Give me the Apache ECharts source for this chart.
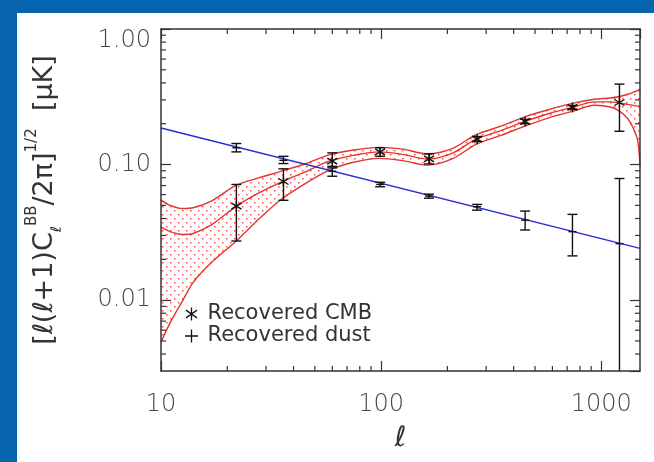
<!DOCTYPE html>
<html>
<head>
<meta charset="utf-8">
<script src="https://cdn.jsdelivr.net/npm/echarts@6/dist/echarts.min.js"></script>
<style>
html, body { margin: 0; padding: 0; background: #0564ad; }
#chart { position: absolute; left: 17px; top: 13px; width: 637px; height: 449px; background: #fff; }
</style>
</head>
<body>
<div id="chart"></div>
<script>
// CMB 功率谱带 (上/中/下三条曲线), 按多极 l 采样
const bandL     = [10, 11, 12.5, 14, 17, 22, 28, 35, 45, 58, 75, 98, 125, 163, 210, 270, 350, 450, 590, 740, 930, 1100, 1210, 1320, 1420, 1470, 1500];
const bandUpper = [0.0547, 0.050, 0.0474, 0.048, 0.054, 0.0705, 0.080, 0.089, 0.101, 0.118, 0.128, 0.134, 0.130, 0.120, 0.131, 0.166, 0.192, 0.225, 0.257, 0.283, 0.303, 0.310, 0.318, 0.330, 0.345, 0.353, 0.360];
const bandMid   = [0.0345, 0.032, 0.0305, 0.031, 0.036, 0.0494, 0.062, 0.074, 0.088, 0.106, 0.117, 0.124, 0.119, 0.110, 0.121, 0.154, 0.178, 0.208, 0.240, 0.264, 0.290, 0.290, 0.285, 0.278, 0.272, 0.270, 0.268];
const bandLower = [0.0049, 0.0068, 0.0098, 0.0135, 0.019, 0.0273, 0.040, 0.055, 0.072, 0.091, 0.104, 0.111, 0.107, 0.099, 0.110, 0.141, 0.164, 0.192, 0.224, 0.247, 0.274, 0.266, 0.248, 0.218, 0.175, 0.145, 0.097];

// 分箱数据点
const binL   = [22, 36, 60, 99, 165, 273, 451, 740, 1210];
const cmbVal = [0.0493, 0.0750, 0.106, 0.124, 0.110, 0.154, 0.208, 0.264, 0.287];
const cmbLo  = [0.0273, 0.0545, 0.097, 0.115, 0.101, 0.148, 0.200, 0.256, 0.176];
const cmbHi  = [0.0713, 0.093, 0.122, 0.133, 0.120, 0.161, 0.216, 0.273, 0.392];
const dustVal = [0.133, 0.1075, 0.0893, 0.0713, 0.0585, 0.0489, 0.0389, 0.032, 0.0261];
const dustLo  = [0.124, 0.1017, 0.082, 0.0686, 0.0565, 0.0461, 0.0329, 0.0212, 0.0008];
const dustHi  = [0.143, 0.115, 0.0945, 0.074, 0.0605, 0.0508, 0.0454, 0.0429, 0.0789];

// 尘埃拟合直线
const fitL   = [10, 1500];
const fitVal = [0.186, 0.0241];

// 坐标轴
const xMin = 10, xMax = 1500, yMin = 0.003, yMax = 1;
const xMinorTicks = [20, 30, 40, 50, 60, 70, 80, 90, 200, 300, 400, 500, 600, 700, 800, 900];
const yMinorTicks = [0.004, 0.005, 0.006, 0.007, 0.008, 0.009, 0.02, 0.03, 0.04, 0.05, 0.06, 0.07, 0.08, 0.09, 0.2, 0.3, 0.4, 0.5, 0.6, 0.7, 0.8, 0.9];

const red = '#e3342f';
const axisColor = '#333';
const font = 'DejaVu Sans';

// 点阵填充
const tile = document.createElement('canvas');
tile.width = 8; tile.height = 8;
const g = tile.getContext('2d');
g.fillStyle = 'rgba(228,52,52,0.85)';
g.fillRect(1, 1, 1.5, 1.5);
g.fillRect(5, 5, 1.5, 1.5);

const starPath = 'path://M9,0H11V20H9Z M1,5L2,3L19,15L18,17Z M18,3L19,5L2,17L1,15Z';
const plusPath = 'path://M0,9H20V11H0Z M9,0H11V20H9Z';

function errorBars(star) {
    return function (params, api) {
        const l = api.value(0);
        const lo = api.value(2);
        const c = api.coord([l, api.value(1)]);
        const pLo = api.coord([l, Math.max(lo, yMin)]);
        const pHi = api.coord([l, api.value(3)]);
        const st = { stroke: '#111', lineWidth: 1.4 };
        const cap = 5;
        const kids = [
            { type: 'line', shape: { x1: c[0], y1: pLo[1], x2: c[0], y2: pHi[1] }, style: st },
            { type: 'line', shape: { x1: c[0] - cap, y1: pHi[1], x2: c[0] + cap, y2: pHi[1] }, style: st }
        ];
        if (lo > yMin) {
            kids.push({ type: 'line', shape: { x1: c[0] - cap, y1: pLo[1], x2: c[0] + cap, y2: pLo[1] }, style: st });
        }
        if (star) {
            const s = 5;
            kids.push({ type: 'line', shape: { x1: c[0], y1: c[1] - s, x2: c[0], y2: c[1] + s }, style: st });
            kids.push({ type: 'line', shape: { x1: c[0] - s, y1: c[1] - s * 0.6, x2: c[0] + s, y2: c[1] + s * 0.6 }, style: st });
            kids.push({ type: 'line', shape: { x1: c[0] - s, y1: c[1] + s * 0.6, x2: c[0] + s, y2: c[1] - s * 0.6 }, style: st });
        } else {
            kids.push({ type: 'line', shape: { x1: c[0] - 4, y1: c[1], x2: c[0] + 4, y2: c[1] }, style: st });
        }
        return { type: 'group', children: kids };
    };
}

const tickStyle = { stroke: axisColor, lineWidth: 1.2 };
const axLine = { show: true, lineStyle: { color: axisColor, width: 1.5 } };
const axTick = { inside: true, length: 10, lineStyle: { color: axisColor, width: 1.2 } };

const chart = echarts.init(document.getElementById('chart'));
chart.setOption({
    animation: false,
    grid: { left: 140, right: 14, top: 16, bottom: 91 },
    legend: {
        orient: 'vertical', left: 163, top: 285, z: 20,
        itemWidth: 22, itemHeight: 13, itemGap: 0,
        selectedMode: false,
        textStyle: { fontSize: 21, color: '#333', fontFamily: font, lineHeight: 22 },
        data: [
            { name: 'Recovered CMB', icon: starPath, itemStyle: { color: '#111' } },
            { name: 'Recovered dust', icon: plusPath, itemStyle: { color: '#111' } }
        ]
    },
    xAxis: [
        {
            type: 'log', min: xMin, max: xMax, logBase: 10, z: 10,
            name: 'ℓ', nameLocation: 'middle', nameGap: 54,
            nameTextStyle: { fontSize: 28, fontStyle: 'italic', color: '#333', fontFamily: font },
            axisLine: axLine, axisTick: axTick,
            axisLabel: { margin: 22, fontSize: 24, color: '#444', fontFamily: font, fontWeight: 300, showMaxLabel: false, formatter: v => String(v) },
            splitLine: { show: false }
        },
        {
            type: 'log', min: xMin, max: xMax, logBase: 10, position: 'top', z: 10,
            axisLine: axLine, axisTick: axTick,
            axisLabel: { show: false },
            splitLine: { show: false }
        }
    ],
    yAxis: [
        {
            type: 'log', min: yMin, max: yMax, logBase: 10, z: 10,
            name: '[ℓ(ℓ+1)C{sub|ℓ}{sup|BB}/2π]{sup|1/2}  [μK]',
            nameLocation: 'middle', nameGap: 96,
            nameTextStyle: {
                fontSize: 27, color: '#333', fontFamily: font, lineHeight: 40,
                rich: {
                    sub: { fontSize: 15, lineHeight: 16, verticalAlign: 'bottom', color: '#333', fontFamily: font },
                    sup: { fontSize: 15, lineHeight: 16, verticalAlign: 'top', color: '#333', fontFamily: font }
                }
            },
            axisLine: axLine, axisTick: axTick,
            axisLabel: {
                margin: 10, fontSize: 24, color: '#444', fontFamily: font, fontWeight: 300,
                showMinLabel: false, verticalAlignMaxLabel: 'top',
                formatter: v => v.toFixed(2)
            },
            splitLine: { show: false }
        },
        {
            type: 'log', min: yMin, max: yMax, logBase: 10, position: 'right', z: 10,
            axisLine: axLine, axisTick: axTick,
            axisLabel: { show: false },
            splitLine: { show: false }
        }
    ],
    series: [
        {
            // 上边界: 点阵填充至底部
            name: 'upper', type: 'line', smooth: 0.3, symbol: 'none', z: 1,
            data: bandL.map((l, i) => [l, bandUpper[i]]),
            lineStyle: { color: red, width: 1.4 },
            areaStyle: { color: { image: tile, repeat: 'repeat' }, opacity: 1, origin: 'start' }
        },
        {
            // 下边界: 以白色遮住下方填充
            name: 'lower', type: 'line', smooth: 0.3, symbol: 'none', z: 2,
            data: bandL.map((l, i) => [l, bandLower[i]]),
            lineStyle: { color: red, width: 1.4 },
            areaStyle: { color: '#fff', opacity: 1, origin: 'start' }
        },
        {
            name: 'middle', type: 'line', smooth: 0.3, symbol: 'none', z: 3,
            data: bandL.map((l, i) => [l, bandMid[i]]),
            lineStyle: { color: red, width: 1.4 }
        },
        {
            name: 'fit', type: 'line', symbol: 'none', z: 4,
            data: fitL.map((l, i) => [l, fitVal[i]]),
            lineStyle: { color: '#2b2bd6', width: 1.4 }
        },
        {
            name: 'Recovered CMB', type: 'custom', z: 5, itemStyle: { color: '#111' },
            encode: { x: 0, y: 1 },
            data: binL.map((l, i) => [l, cmbVal[i], cmbLo[i], cmbHi[i]]),
            renderItem: errorBars(true)
        },
        {
            name: 'Recovered dust', type: 'custom', z: 5, itemStyle: { color: '#111' },
            encode: { x: 0, y: 1 },
            data: binL.map((l, i) => [l, dustVal[i], dustLo[i], dustHi[i]]),
            renderItem: errorBars(false)
        },
        {
            name: 'xMinor', type: 'custom', silent: true, z: 6,
            encode: { x: 0, y: 1 },
            data: xMinorTicks.map(v => [v, yMin]),
            renderItem: function (params, api) {
                const cs = params.coordSys;
                const x = api.coord([api.value(0), yMin])[0];
                return { type: 'group', children: [
                    { type: 'line', shape: { x1: x, y1: cs.y + cs.height, x2: x, y2: cs.y + cs.height - 5 }, style: tickStyle },
                    { type: 'line', shape: { x1: x, y1: cs.y, x2: x, y2: cs.y + 5 }, style: tickStyle }
                ] };
            }
        },
        {
            name: 'yMinor', type: 'custom', silent: true, z: 6,
            encode: { x: 0, y: 1 },
            data: yMinorTicks.map(v => [xMin, v]),
            renderItem: function (params, api) {
                const cs = params.coordSys;
                const y = api.coord([xMin, api.value(1)])[1];
                return { type: 'group', children: [
                    { type: 'line', shape: { x1: cs.x, y1: y, x2: cs.x + 5, y2: y }, style: tickStyle },
                    { type: 'line', shape: { x1: cs.x + cs.width, y1: y, x2: cs.x + cs.width - 5, y2: y }, style: tickStyle }
                ] };
            }
        }
    ]
});
</script>
</body>
</html>
